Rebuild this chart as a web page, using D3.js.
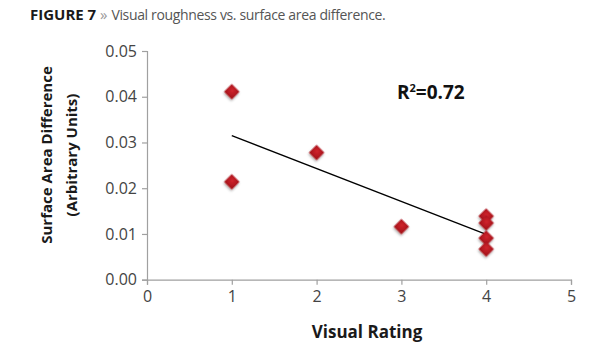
<!DOCTYPE html>
<html><head><meta charset="utf-8">
<script src="https://cdn.jsdelivr.net/npm/d3@7"></script>
<style>
body{margin:0;background:#fff;}
text{font-family:"Open Sans",sans-serif;}
</style></head>
<body><svg id="c" width="615" height="350"></svg>
<script>
const ratings = [1, 1, 2, 3, 4, 4, 4, 4];
const areaDiff = [0.0411, 0.0214, 0.0278, 0.0116, 0.0139, 0.0124, 0.0091, 0.0067];
const xTicks = [0, 1, 2, 3, 4, 5];
const yTicks = [0, 0.01, 0.02, 0.03, 0.04, 0.05];
const rSquaredLabel = "0.72";

const svg = d3.select("#c");
const x = d3.scaleLinear().domain([0, 5]).range([147, 571]);
const y = d3.scaleLinear().domain([0, 0.05]).range([279.7, 51]);

// title
const t = svg.append("text").attr("x", 30).attr("y", 20).attr("font-size", 15);
t.append("tspan").attr("font-weight", 700).attr("fill", "#1a1a1a").text("FIGURE 7 ");
t.append("tspan").attr("fill", "#999").text("» ");
t.append("tspan").attr("fill", "#555").attr("font-size", 14).attr("letter-spacing", -0.35)
  .text("Visual roughness vs. surface area difference.");

// axes
const gx = svg.append("g").attr("transform", "translate(0,279.7)")
  .call(d3.axisBottom(x).tickValues(xTicks).tickFormat(d3.format("d")).tickSizeOuter(0).tickSize(5).tickPadding(6));
const gy = svg.append("g").attr("transform", "translate(147,0)")
  .call(d3.axisLeft(y).tickValues(yTicks).tickFormat(d3.format(".2f")).tickSizeOuter(0).tickSize(5).tickPadding(5));
[gx, gy].forEach(g => {
  g.select(".domain").attr("stroke", "#a0a0a0").attr("stroke-width", 1.2);
  g.selectAll(".tick line").attr("stroke", "#a0a0a0").attr("stroke-width", 1.2);
  g.selectAll(".tick text").attr("font-family", "Open Sans").attr("font-size", 16).attr("fill", "#444");
});

// regression line
const n = ratings.length;
const mx = d3.mean(ratings), my = d3.mean(areaDiff);
let sxy = 0, sxx = 0;
for (let i = 0; i < n; i++) { sxy += (ratings[i]-mx)*(areaDiff[i]-my); sxx += (ratings[i]-mx)**2; }
const slope = sxy/sxx, icpt = my - slope*mx;
const x0 = d3.min(ratings), x1 = d3.max(ratings);
svg.append("line")
  .attr("x1", x(x0)).attr("y1", y(icpt + slope*x0))
  .attr("x2", x(x1)).attr("y2", y(icpt + slope*x1))
  .attr("stroke", "#000").attr("stroke-width", 1.3);

// markers
const defs = svg.append("defs");
const grad = defs.append("radialGradient").attr("id", "rg").attr("cx", "45%").attr("cy", "40%").attr("r", "60%");
grad.append("stop").attr("offset", "0%").attr("stop-color", "#d0242c");
grad.append("stop").attr("offset", "100%").attr("stop-color", "#a8141c");
const flt = defs.append("filter").attr("id", "sh").attr("x", "-50%").attr("y", "-50%").attr("width", "200%").attr("height", "200%");
flt.append("feDropShadow").attr("dx", 0.8).attr("dy", 1.5).attr("stdDeviation", 1.2).attr("flood-color", "#000").attr("flood-opacity", 0.35);

const sym = d3.symbol().type(d3.symbolSquare).size(120);
svg.append("g").selectAll("path").data(ratings.map((r, i) => ({r, v: areaDiff[i]})))
  .join("path")
  .attr("d", sym)
  .attr("transform", d => `translate(${x(d.r)},${y(d.v)}) rotate(45)`)
  .attr("fill", "url(#rg)")
  .attr("filter", "url(#sh)");

// R^2 label
const r = svg.append("text").attr("x", 397).attr("y", 99).attr("font-size", 19).attr("font-weight", 700).attr("fill", "#111");
r.append("tspan").text("R");
r.append("tspan").attr("font-size", 11).attr("dy", -7).text("2");
r.append("tspan").attr("dy", 7).text("=" + rSquaredLabel);

// axis titles
svg.append("text").attr("x", 367).attr("y", 338).attr("text-anchor", "middle")
  .attr("font-size", 17).attr("font-weight", 700).attr("fill", "#1a1a1a").text("Visual Rating");
const yl = svg.append("text").attr("transform", "translate(0,155) rotate(-90)")
  .attr("text-anchor", "middle").attr("font-size", 15).attr("font-weight", 700).attr("fill", "#1a1a1a");
yl.append("tspan").attr("x", 0).attr("y", 52).text("Surface Area Difference");
yl.append("tspan").attr("x", 0).attr("y", 77).text("(Arbitrary Units)");
</script></body></html>
